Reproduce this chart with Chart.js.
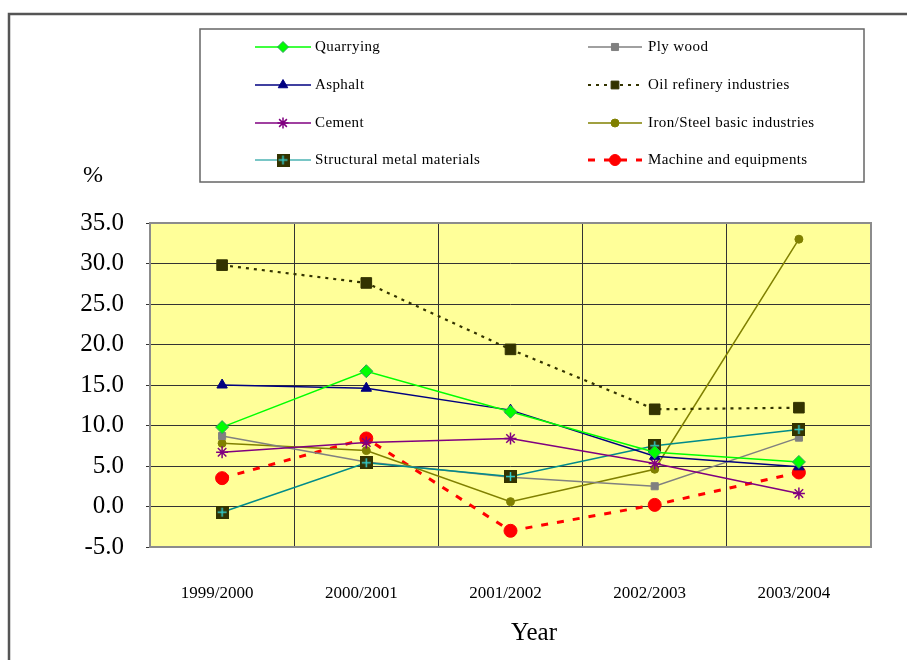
<!DOCTYPE html>
<html><head><meta charset="utf-8">
<script src="https://cdn.jsdelivr.net/npm/chart.js@4.4.1/dist/chart.umd.min.js"></script>
<style>html,body{margin:0;padding:0;background:#fff}canvas{display:block}</style>
</head><body><canvas id="c" width="907" height="660"></canvas>
<script>
// Year-on-year change (%) by industry
const years = ['1999/2000', '2000/2001', '2001/2002', '2002/2003', '2003/2004'];
const quarrying = [9.8, 16.7, 11.7, 6.7, 5.5];
const plyWood = [8.7, 5.5, 3.6, 2.5, 8.5];
const asphalt = [15.0, 14.6, 11.9, 6.2, 4.9];
const oilRefinery = [29.8, 27.6, 19.4, 12.0, 12.2];
const cement = [6.7, 7.9, 8.4, 5.3, 1.6];
const ironSteel = [7.8, 6.9, 0.6, 4.6, 33.0];
const structuralMetal = [-0.7, 5.4, 3.7, 7.5, 9.5];
const machinery = [3.5, 8.4, -3.0, 0.2, 4.2];
const yTicks = [-5, 0, 5, 10, 15, 20, 25, 30, 35];

const SERIF = '"Liberation Serif", "Times New Roman", serif';

// dark square with a cyan cross, used as the structural-metal marker
function crossBox(size) {
  const c = document.createElement('canvas');
  c.width = size; c.height = size;
  const g = c.getContext('2d');
  g.fillStyle = '#333300';
  g.fillRect(0, 0, size, size);
  g.strokeStyle = '#33cccc';
  g.lineWidth = 1.5;
  g.beginPath();
  g.moveTo(size / 2, 2); g.lineTo(size / 2, size - 2);
  g.moveTo(2, size / 2); g.lineTo(size - 2, size / 2);
  g.stroke();
  return c;
}
const boxMarker = crossBox(13);

function series(label, data, color, extra) {
  return Object.assign({
    label, data,
    borderColor: color,
    backgroundColor: color,
    pointBackgroundColor: color,
    pointBorderColor: color,
    borderWidth: 1.5,
    pointBorderWidth: 1,
    tension: 0,
    fill: false
  }, extra);
}

const datasets = [
  series('Quarrying', quarrying, '#00ff00', { pointStyle: 'rectRot', pointRadius: 6.5, pointBorderColor: '#2e9e5e', col: 0, row: 0 }),
  series('Asphalt', asphalt, '#000080', { pointStyle: 'triangle', pointRadius: 6, col: 0, row: 1 }),
  series('Cement', cement, '#800080', { pointStyle: 'star', pointRadius: 6, pointBorderWidth: 1.5, col: 0, row: 2 }),
  series('Structural metal materials', structuralMetal, '#008b8b', { pointStyle: boxMarker, pointRadius: 6, col: 0, row: 3, legendColor: '#4db3b3' }),
  series('Ply wood', plyWood, '#808080', { pointStyle: 'rect', pointRadius: 5, col: 1, row: 0 }),
  series('Oil refinery industries', oilRefinery, '#333300', { pointStyle: 'rect', pointRadius: 7.5, borderWidth: 2.2, borderDash: [3, 5], col: 1, row: 1 }),
  series('Iron/Steel basic industries', ironSteel, '#808000', { pointStyle: 'circle', pointRadius: 4, col: 1, row: 2 }),
  series('Machine and equipments', machinery, '#ff0000', { pointStyle: 'circle', pointRadius: 6.5, borderWidth: 3, borderDash: [7, 9], col: 1, row: 3 })
];

// yellow plot background and grey frame of the plot area
const plotBackground = {
  id: 'plotBackground',
  beforeDraw(chart) {
    const { ctx, chartArea: a } = chart;
    ctx.save();
    ctx.fillStyle = '#ffff99';
    ctx.fillRect(a.left, a.top, a.right - a.left, a.bottom - a.top);
    ctx.restore();
  },
  beforeDatasetsDraw(chart) {
    const { ctx, chartArea: a } = chart;
    ctx.save();
    ctx.strokeStyle = '#8c8c8c';
    ctx.lineWidth = 2;
    ctx.strokeRect(a.left, a.top, a.right - a.left, a.bottom - a.top);
    ctx.restore();
  }
};

// page frame, legend box, unit label and axis title
const decorations = {
  id: 'decorations',
  afterDraw(chart) {
    const ctx = chart.ctx;
    ctx.save();
    // frame lines
    ctx.strokeStyle = '#555';
    ctx.lineWidth = 2.5;
    ctx.beginPath();
    ctx.moveTo(9, 660); ctx.lineTo(9, 14); ctx.lineTo(907, 14);
    ctx.stroke();

    // legend box
    ctx.strokeStyle = '#666';
    ctx.lineWidth = 1.5;
    ctx.strokeRect(200, 29, 664, 153);

    const rowsY = [47, 85, 123, 160];
    const cols = [{ x0: 255, x1: 311, tx: 315 }, { x0: 588, x1: 642, tx: 648 }];
    chart.data.datasets.forEach(ds => {
      const c = cols[ds.col];
      const y = rowsY[ds.row];
      ctx.save();
      ctx.strokeStyle = ds.legendColor || ds.borderColor;
      ctx.lineWidth = ds.borderWidth;
      ctx.setLineDash(ds.borderDash || []);
      ctx.beginPath();
      ctx.moveTo(c.x0, y); ctx.lineTo(c.x1, y);
      ctx.stroke();
      ctx.restore();
      const mx = (c.x0 + c.x1) / 2;
      ctx.save();
      ctx.fillStyle = ds.pointBackgroundColor;
      ctx.strokeStyle = ds.pointBorderColor;
      ctx.lineWidth = ds.pointBorderWidth;
      Chart.helpers.drawPoint(ctx, {
        pointStyle: ds.pointStyle,
        radius: Math.min(ds.pointRadius, 5.5),
        rotation: 0,
        borderWidth: ds.pointBorderWidth
      }, mx, y);
      ctx.restore();
      ctx.fillStyle = '#000';
      ctx.font = '15px ' + SERIF;
      ctx.letterSpacing = '0.4px';
      ctx.textAlign = 'left';
      ctx.textBaseline = 'middle';
      ctx.fillText(ds.label, c.tx, y);
    });

    ctx.letterSpacing = '0px';
    ctx.fillStyle = '#000';
    ctx.textAlign = 'center';
    ctx.textBaseline = 'middle';
    ctx.font = '24px ' + SERIF;
    ctx.fillText('%', 93, 176);
    ctx.font = '25px ' + SERIF;
    ctx.fillText('Year', 534, 633);
    ctx.restore();
  }
};

new Chart(document.getElementById('c'), {
  type: 'line',
  data: { labels: years, datasets },
  options: {
    responsive: false,
    devicePixelRatio: 1,
    animation: false,
    layout: { padding: { top: 223, right: 36, left: 0, bottom: 0 } },
    plugins: { legend: { display: false }, tooltip: { enabled: false } },
    scales: {
      x: {
        offset: true,
        grid: { offset: true, color: '#333', lineWidth: 1, drawTicks: false },
        border: { display: false },
        ticks: { color: '#000', font: { family: SERIF, size: 17 }, padding: 36, maxRotation: 0, labelOffset: -5 },
        afterFit(s) { s.height = 113; }
      },
      y: {
        min: yTicks[0],
        max: yTicks[yTicks.length - 1],
        afterBuildTicks(s) { s.ticks = yTicks.map(v => ({ value: v })); },
        grid: { color: '#333', lineWidth: 1, drawTicks: true, tickLength: 4, tickColor: '#333' },
        border: { display: false },
        ticks: { color: '#000', font: { family: SERIF, size: 25 }, padding: 22, callback: v => Number(v).toFixed(1) },
        afterFit(s) { s.width = 150; }
      }
    }
  },
  plugins: [plotBackground, decorations]
});
</script>
</body></html>
